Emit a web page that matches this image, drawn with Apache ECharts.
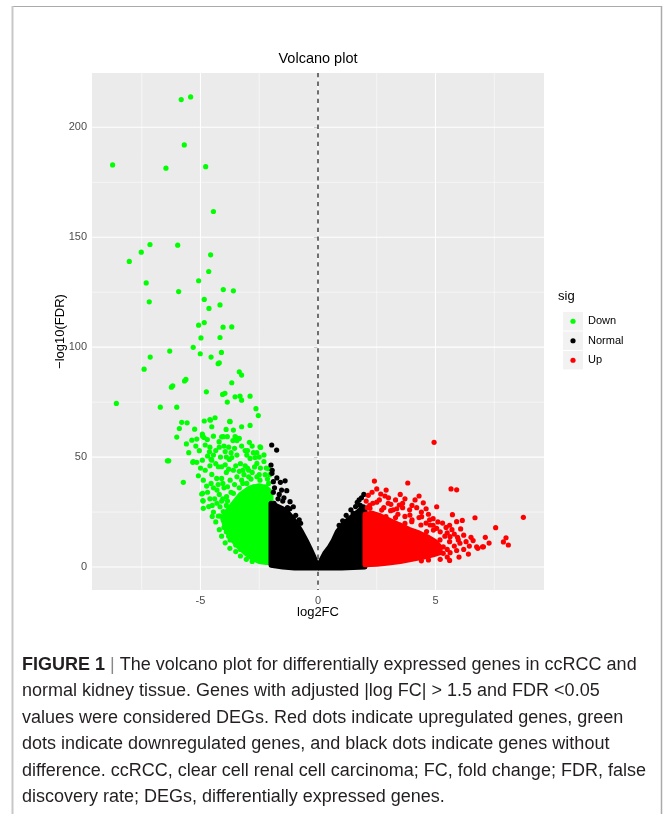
<!DOCTYPE html>
<html><head><meta charset="utf-8">
<script src="https://cdn.jsdelivr.net/npm/echarts@6/dist/echarts.min.js"></script>
<style>html,body{margin:0;padding:0;background:#fff}#c{width:663px;height:814px}</style>
</head><body><div id="c"></div>
<script>
// ---------- data ----------
const categories = ['Down', 'Normal', 'Up'];
const xTicks = [-5, 0, 5];
const xMinor = [-7.5, -2.5, 2.5, 7.5];
const yTicks = [0, 50, 100, 150, 200];
const yMinor = [25, 75, 125, 175];
const thresholdLine = [0];

// individual, readable points: [log2FC, -log10(FDR)]
const downPoints = [
[-5.82,212.6],[-5.42,213.8],[-5.69,192],[-8.74,182.9],[-6.47,181.4],[-4.78,182.1],[-4.45,161.7],
[-7.15,146.7],[-5.97,146.4],[-7.52,143.2],[-4.57,142],[-8.03,139],[-4.65,134.4],[-5.08,130.2],
[-7.31,129.2],[-4.03,126.2],[-3.6,125.6],[-5.93,125.3],[-7.18,120.6],[-4.84,121.7],[-4.64,117.6],
[-4.17,119.2],[-4.84,111.2],[-5.08,110],[-4.04,109.1],[-3.67,109.2],[-4.98,104.2],[-4.17,104.4],
[-5.31,99.9],[-6.31,98.2],[-5.01,97],[-4.11,97.6],[-7.14,95.5],[-4.55,95.5],[-4.2,92.9],[-4.25,92.5],
[-7.4,90],[-3.35,88.8],[-3.25,87.3],[-5.62,85.3],[-5.68,84.6],[-6.18,82.4],[-6.24,81.8],[-3.67,83.8],
[-4.75,79.7],[-4.06,78.5],[-3.96,79],[-3.53,77.4],[-3.32,77.7],[-3.25,75.9],[-2.89,77.7],[-3.86,75],
[-8.58,74.4],[-6.71,72.7],[-6.01,72.7],[-2.64,72],[-2.54,68.9],
[-4.84,66.4],[-4.58,66.8],[-4.52,63.8],[-3.76,66.2],[-5.8,65.8],[-5.57,65.6],[-2.89,64.4],[-5.9,63],
[-5.25,62.7],[-3.91,62.6],[-3.6,62.3],[-6.01,59.1],[-5.37,57.7],[-5.16,58.2],[-4.91,59.5],[-4.1,59.2],
[-3.5,59],[-3.45,57.5],[-3.35,58.5],[-2.92,56.7],[-2.44,54.4],[-4.6,54.5],[-4.2,54.5],[-4.0,55],
[-3.8,54.5],[-5.05,52.9],[-6.41,48.3],[-6.35,48.3],[-5.31,47.9],[-5.16,47.6],[-4.55,49],[-3.9,50],
[-5.73,38.5],[-5.09,41.5],[-4.91,33.5],[-4.89,30],[-4.88,26.7],[-4.17,23.2],[-4.03,21.4],[-3.74,12.3],
[-3.6,12.3],[-3.2,9.5],
[-4.6,67.1],[-4.38,67.9],[-3.74,66.1],[-3.25,63.8],[-4.92,60.4],[-4.85,58.9],[-4.71,58],[-4.45,59.5],
[-4.21,57],[-4.03,59.3],[-3.86,59.3],[-3.53,59.3],[-3.43,58.1],[-3.62,57.5],[-4.62,52.4],[-4.45,50.9],
[-4.52,48.6],[-5.33,47.6],[-4.92,48.6],[-4.24,45.6],[-4.1,45.6],[-3.77,48.9],[-3.67,49.8],[-3.45,50.9],
[-3.03,50.9],[-2.89,49.4],[-2.68,49.8],[-2.6,47.1],[-4.88,39.5],[-4.74,36.8],[-4.52,42.1],[-4.31,40.3],
[-4.1,40.3],[-3.74,39.5],[-3.45,41],[-3.25,39.5],[-3.03,38],[-2.74,36.5],[-2.47,39.5],[-2.25,36.5],
[-2.1,38],[-4.95,33.2],[-4.9,30.2],[-4.17,27.4],[-4.24,23.2],[-4.03,25.2],[-3.89,32],[-3.6,33.5],
[-3.38,31.3],[-3.17,32.8],[-3.74,21.3],
[-2.47,54.7],[-2.1,44.7],[-2.2,45],[-2.05,42],
[-4.3,35],[-4.0,36],[-4.4,31],[-4.1,30],[-3.9,28],[-4.5,28],[-4.0,18],[-3.9,16],[-3.8,14],[-3.5,10],
[-3.3,8],[-2.9,5],[-2.6,3.5],[-2.3,2.5],[-3.0,45],[-2.8,43],[-2.5,42],[-3.2,44],[-3.6,44],[-3.9,43],
[-2.3,48],[-2.6,52],[-3.1,53],[-2.8,55],[-3.3,47],[-3.1,46],
[-5.6,56],[-5.5,52],[-5.2,55],[-4.8,55.5],[-4.7,50.5],[-4.35,53],[-4.15,50],[-3.95,52.5],[-3.7,52],
[-3.55,54],[-3.25,55],[-3.0,53],[-2.75,52],[-2.5,50],[-2.3,51],
[-5.0,45],[-4.8,44],[-4.6,46],[-4.35,47],[-3.95,46.5],[-3.8,44.5],[-3.5,46],[-3.35,43.5],[-3.15,42],
[-2.95,41],[-2.7,45.5],[-2.45,45],[-2.25,42],
[-4.7,34],[-4.55,38],[-4.45,36],[-4.25,37.5],[-4.2,33],[-4.05,38],[-3.85,36.5],[-3.7,34],[-3.55,37.5],
[-3.35,36],[-3.2,38],[-3.0,35],[-2.85,40],[-2.6,41],
[-4.6,31],[-4.45,25],[-4.3,29],[-4.35,20.5],[-4.2,17],[-4.1,14],[-3.95,11],[-3.75,8.5],[-3.5,7],
[-3.3,5],[-3.05,3.5],[-2.8,2.5],
[-4.65,27.5],[-4.5,23],[-4.05,31],[-3.85,30],[-2.95,44],[-2.4,33],[-2.15,40]
];
const normalPoints = [
[-1.97,55.5],[-1.76,53.2],[-2.0,46.4],[-1.96,42.6],[-1.9,38.8],[-1.4,39.2],[-1.55,35],[-1.33,34.7],
[-1.87,29],[-1.19,29.7],[-1.05,27.4],[-1.95,44],[-1.9,34],[-1.7,31],[-1.5,30],[-1.3,27],
[1.67,29.4],[1.5,24.4],[1.93,27.4],[1.8,28],[1.85,31.5],[-0.74,19.9],
[-1.85,36],[-1.65,33],[-1.45,31.5],[-1.2,26.5],[-0.95,23.5],[-0.8,21.5],[1.4,26],[1.6,27.5],
[1.2,23.5],[1.05,21],[0.9,19],[-1.75,40.5],[-1.6,38.5],[1.75,30.5],[1.95,33]
];
const upPoints = [
[2.40,39.1],[3.82,38.2],[5.66,35.5],[5.90,35.1],[2.14,32.6],[2.67,33.2],[2.85,32.3],[4.30,32.3],
[4.13,30.5],[2.61,30.5],[2.99,29],[4.48,29.2],[3.46,28.2],[5.05,27.4],[2.33,29],[2.21,26.7],
[2.71,25.9],[3.09,25.6],[8.74,22.6],[5.72,23.8],[6.68,22.4],[5.90,20.6],[6.14,21.2],[3.91,23.6],
[4.41,22.9],[7.56,17.9],[6.07,17.3],[5.05,17.6],[5.62,13.8],[5.94,13.5],[6.51,13.5],[7.12,13.5],
[7.89,11.4],[8.0,13.3],[8.10,10],[7.28,10.9],[7.04,9.2],[6.80,8.5],[6.44,9.5],[6.40,5.9],[5.62,6.5],
[6.04,10.8],[5.33,9.2],[5.09,8.0],[5.19,12.3],[4.91,16.8],[4.62,16.1],[4.77,19.1],[4.38,19.1],
[3.99,20.6],[3.70,19.8],[3.49,19.1],[3.21,18.3],[2.89,22.9],[4.94,56.7],
[7.0,9.2],[6.75,9.2],[5.33,6.2],[5.05,7.0],[5.97,12.3],
[2.2,28],[2.5,29.5],[2.8,27],[3.2,26],[3.4,24],[3.7,23],[3.3,22.5],[4.0,21.5],[4.6,20],[4.9,19],
[5.2,16],[5.4,14],[5.6,11.5],[5.8,9.5],[5.5,15.5],[4.4,25],[4.7,24],[3.6,27],[3.1,28.5],
[5.5,8],[4.8,6.5],[4.5,5.5],[4.2,4.5],[3.8,3.5],
[2.3,34],[2.9,35],[3.3,30.5],[3.7,31],[3.5,33],[4.0,28],[4.2,27],[4.6,26.5],[4.9,22],[5.3,20],
[5.45,18],[5.7,17],[5.8,15],[6.2,14.5],[6.3,11.5],[5.9,7.5],[5.5,4.5],[5.2,3.5],[4.7,3.2],[4.4,2.8],
[6.0,4.5],[6.6,12],[6.2,8],[3.0,31.5],[2.5,35.5],[3.35,26.5],[3.9,26],[4.3,22.5],[4.75,21.5],
[5.1,20.5],[5.6,19],[2.05,30],[2.1,27],[3.6,29],[4.5,10],[4.9,9],[5.6,3]
];
// outlines of the solid, fully overplotted cores: [log2FC, -log10(FDR)]
const downCore = [[-2.0,2.0],[-2.0,34],[-2.2,36],[-2.5,37],[-2.9,36],[-3.3,33],[-3.6,29],[-3.9,25],
[-4.05,22],[-3.9,17],[-3.7,13],[-3.4,9.5],[-3.1,6.5],[-2.8,4],[-2.5,2.5],[-2.2,2.0]];
const normalCore = [[-2.0,29],[-1.8,28],[-1.5,26.5],[-1.3,25],[-1.1,22.5],[-0.9,19.5],[-0.7,16],
[-0.5,12],[-0.34,8.5],[-0.17,4.5],[0,-0.2],[0.15,3.5],[0.3,6.5],[0.48,9],[0.65,12],[0.82,16],
[1.0,18.5],[1.22,21],[1.45,23],[1.62,24.5],[1.8,26],[2.0,26.5],[2.0,0.0],[1.5,-0.2],[1.0,-0.4],
[0.5,-0.5],[0,-0.5],[-0.5,-0.5],[-1.0,-0.4],[-1.5,0],[-2.0,0.8]];
const upCore = [[2.0,1.0],[2.0,24],[2.3,24.5],[2.6,23.5],[3.0,21.5],[3.5,19],[3.9,17],[4.3,15.5],
[4.7,13.5],[5.0,11.5],[5.2,9],[5.2,6.5],[4.9,5.5],[4.5,4.5],[4.0,3.5],[3.5,2.5],[3.0,1.8],[2.5,1.2]];

const captionLines = [
  '{b|FIGURE 1} {bar||} The volcano plot for differentially expressed genes in ccRCC and',
  'normal kidney tissue. Genes with adjusted |log FC| > 1.5 and FDR <0.05',
  'values were considered DEGs. Red dots indicate upregulated genes, green',
  'dots indicate downregulated genes, and black dots indicate genes without',
  'difference. ccRCC, clear cell renal cell carcinoma; FC, fold change; FDR, false',
  'discovery rate; DEGs, differentially expressed genes.'
];

// ---------- chart ----------
const COLORS = {Down: '#00FF00', Normal: '#000000', Up: '#FF0000'};
const X_EXT = [-9.617, 9.617];
const Y_EXT = [-10.46, 224.7];
const F = "'Liberation Sans', Arial, Helvetica, sans-serif";
const CAPF = "'Liberation Sans Narrow', 'Arial Narrow', 'Liberation Sans', sans-serif";

const chart = echarts.init(document.getElementById('c'), null, {renderer: 'canvas'});

function vLines(vals, width, dash, color, z) {
  return {
    type: 'custom', z: z, silent: true, clip: false,
    data: vals.map(v => [v, 0]),
    encode: {x: 0, y: 1},
    renderItem: function (params, api) {
      const v = api.value(0);
      const a = api.coord([v, Y_EXT[1]]);
      const b = api.coord([v, Y_EXT[0]]);
      return {type: 'line', shape: {x1: a[0], y1: a[1], x2: b[0], y2: b[1]},
        style: {stroke: color, lineWidth: width, lineDash: dash || null}};
    }
  };
}
function hLines(vals, width, color, z) {
  return {
    type: 'custom', z: z, silent: true, clip: false,
    data: vals.map(v => [0, v]),
    encode: {x: 0, y: 1},
    renderItem: function (params, api) {
      const v = api.value(1);
      const a = api.coord([X_EXT[0], v]);
      const b = api.coord([X_EXT[1], v]);
      return {type: 'line', shape: {x1: a[0], y1: a[1], x2: b[0], y2: b[1]},
        style: {stroke: color, lineWidth: width}};
    }
  };
}
function core(pts, color, z) {
  return {
    type: 'custom', z: z, silent: true, clip: false,
    data: pts, encode: {x: 0, y: 1},
    renderItem: function (params, api) {
      if (params.dataIndexInside !== 0) return null;
      const n = params.dataInsideLength;
      const p = [];
      for (let i = 0; i < n; i++) p.push(api.coord([api.value(0, i), api.value(1, i)]));
      return {type: 'polygon', shape: {points: p},
        style: {fill: color, stroke: color, lineWidth: 5, lineJoin: 'round'}};
    }
  };
}
function pts(name, data, z) {
  return {type: 'scatter', name: name, data: data, symbol: 'circle', symbolSize: 5.2, z: z,
    itemStyle: {color: COLORS[name], opacity: 1}, silent: true, animation: false};
}

const legendTop = 312, keyH = 19.5;
const legendGraphics = [{type: 'text', left: 558, top: 290,
  style: {text: 'sig', fill: '#000', font: '13px ' + F}}];
categories.forEach((c, i) => {
  const y = legendTop + i * keyH;
  legendGraphics.push({type: 'rect', shape: {x: 563, y: y, width: 20, height: keyH - 1},
    style: {fill: '#F2F2F2'}});
  legendGraphics.push({type: 'circle', shape: {cx: 573, cy: y + (keyH - 1) / 2, r: 2.6},
    style: {fill: COLORS[c]}});
  legendGraphics.push({type: 'text', x: 588, y: y + (keyH - 1) / 2,
    style: {text: c, fill: '#000', font: '11px ' + F, verticalAlign: 'middle'}});
});

const captionGraphics = captionLines.map((t, i) => ({
  type: 'text', x: 22, y: 665 + i * 26.4,
  style: {text: t, fill: '#231F20', font: '18px ' + CAPF, verticalAlign: 'middle',
    rich: {b: {fontWeight: 'bold', fontFamily: CAPF, fontSize: 18, fill: '#231F20'},
           bar: {fontFamily: CAPF, fontSize: 18, fill: '#888'}}}
}));

const borderGraphics = [
  {type: 'line', shape: {x1: 12, y1: 6.5, x2: 662, y2: 6.5}, style: {stroke: '#AAAAAA', lineWidth: 1}},
  {type: 'line', shape: {x1: 12.5, y1: 6, x2: 12.5, y2: 814}, style: {stroke: '#C8C8C8', lineWidth: 2}},
  {type: 'line', shape: {x1: 661.5, y1: 6, x2: 661.5, y2: 814}, style: {stroke: '#AAAAAA', lineWidth: 1.5}}
];

chart.setOption({
  animation: false,
  backgroundColor: '#FFFFFF',
  title: {text: 'Volcano plot', left: 318, top: 51, textAlign: 'center', padding: 0,
    textStyle: {fontFamily: F, fontSize: 14.5, fontWeight: 'normal', color: '#000'}},
  grid: {left: 92, top: 73, width: 452, height: 517, show: true, backgroundColor: '#EBEBEB',
    borderWidth: 0, containLabel: false},
  xAxis: {type: 'value', min: X_EXT[0], max: X_EXT[1],
    name: 'log2FC', nameLocation: 'middle', nameGap: 16, nameMoveOverlap: false,
    nameTextStyle: {fontFamily: F, fontSize: 13, color: '#000'},
    axisLine: {show: false},
    axisTick: {show: true, length: 4, customValues: xTicks, lineStyle: {color: '#333', width: 1}},
    axisLabel: {customValues: xTicks, fontFamily: F, fontSize: 11, color: '#4D4D4D', margin: 5},
    splitLine: {show: false}},
  yAxis: {type: 'value', min: Y_EXT[0], max: Y_EXT[1],
    name: '\u2212log10(FDR)', nameLocation: 'middle', nameGap: 25, nameMoveOverlap: false,
    nameTextStyle: {fontFamily: F, fontSize: 13, color: '#000'},
    axisLine: {show: false},
    axisTick: {show: true, length: 4, customValues: yTicks, lineStyle: {color: '#333', width: 1}},
    axisLabel: {customValues: yTicks, fontFamily: F, fontSize: 11, color: '#4D4D4D', margin: 5},
    splitLine: {show: false}},
  graphic: {elements: borderGraphics.concat(legendGraphics, captionGraphics)},
  series: [
    vLines(xMinor, 0.55, null, '#FFFFFF', 1),
    hLines(yMinor, 0.55, '#FFFFFF', 1),
    vLines(xTicks, 1.1, null, '#FFFFFF', 1),
    hLines(yTicks, 1.1, '#FFFFFF', 1),
    core(downCore, COLORS.Down, 3),
    pts('Down', downPoints, 3),
    core(normalCore, COLORS.Normal, 4),
    pts('Normal', normalPoints, 4),
    core(upCore, COLORS.Up, 5),
    pts('Up', upPoints, 5),
    vLines(thresholdLine, 1.1, [4.3, 4.3], '#000000', 6)
  ]
});
</script></body></html>
